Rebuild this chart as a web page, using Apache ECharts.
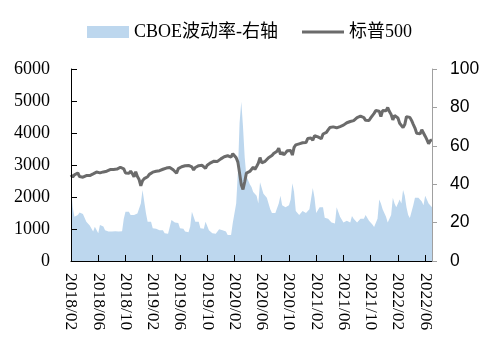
<!DOCTYPE html>
<html><head><meta charset="utf-8">
<script src="https://cdn.jsdelivr.net/npm/echarts@6/dist/echarts.min.js"></script>
<style>html,body{margin:0;padding:0;background:#fff}#c{width:500px;height:347px}</style>
</head><body><div id="c"></div>
<script>
// x-axis tick labels (every 4 months)
const tickLabels = ['2018/02','2018/06','2018/10','2019/02','2019/06','2019/10','2020/02',
  '2020/06','2020/10','2021/02','2021/06','2021/10','2022/02','2022/06'];
const firstYear = 2018, firstMonth = 2, monthCount = 53;
const slotDays = ['01','08','15','22'];
const lastCategory = '2022/06/30';

// CBOE VIX (right axis), 4 samples per month
const vix = [
  38, 28, 23, 22.7,       24, 25.3, 25, 24.5,     24, 20.5, 20.5, 18.5,   17.9, 15.3, 17.9, 17.9,
  14.5, 18.7, 18.7, 18,   16, 15.3, 15.3, 14.8,   15.3, 15, 15.5, 15,     15.3, 15, 15.5, 22,
  25.7, 25.7, 25.7, 24,   24, 24, 24.8, 24.8,     24.8, 30, 37, 36,
  25, 20.5, 20.5, 20.5,   17, 17.5, 16.8, 17,     16, 16.5, 16, 14.5,     14.5, 14.2, 15, 21.3,
  21.3, 20, 19.8, 19.8,   17, 17.5, 16.8, 15.3,   15.3, 15, 18, 25.7,     25.7, 20.5, 21, 20.5,
  17, 17.5, 16.8, 20.5,   20.5, 16, 15, 14.5,     14.5, 14.2, 15, 16.5,   16.5, 16, 15.3, 15.3,
  13.5, 13.8, 13.5, 19.8, 19.8, 30, 46, 72,       83, 70, 54, 44,         42, 40, 38.5, 36,
  36, 34, 30, 41,         38, 35, 34, 33,         32, 27, 25, 24.5,       25, 26, 30, 34,
  29, 28.5, 28, 28,       29, 32, 40.5, 36,       26, 25, 24, 25,         26, 27, 25, 25.5,
  27, 26, 38, 33,         25, 24, 28, 29,         28, 22.5, 22, 22,       21, 20, 20.5, 19.5,
  28, 27, 23, 22,         20, 20.5, 21, 20,       20, 23.4, 22, 21,       20, 21, 22, 21,
  22, 24, 23, 21,         20, 19, 17.7, 18,       22, 32, 30, 27,         25, 23, 20, 20,
  24, 33, 30, 28,         30, 32, 30, 37,         34, 28, 24, 22.4,       23, 29, 33, 34,
  33, 32, 31, 29,         34, 35, 30, 29,
  28
];

// S&P 500 (left axis), 4 samples per month
const spx = [
  2690, 2620, 2690, 2740,  2750, 2640, 2600, 2620,  2680, 2670, 2655, 2670,  2711, 2724, 2735, 2779,
  2780, 2755, 2726, 2784,  2798, 2807, 2813, 2857,  2819, 2862, 2902, 2872,  2905, 2930, 2924, 2880,
  2750, 2755, 2740, 2806,  2730, 2633, 2790, 2637,  2546, 2351, 2510, 2574,
  2610, 2633, 2707, 2708,  2776, 2793, 2804, 2743,  2822, 2800, 2867, 2895,  2905, 2908, 2924, 2879,
  2850, 2856, 2744, 2886,  2889, 2945, 2964, 2976,  3014, 2985, 2953, 2938,  2848, 2923, 2906, 2979,
  2998, 2991, 2940, 2893,  2995, 2996, 3067, 3093,  3120, 3110, 3113, 3135,  3191, 3224, 3258, 3253,
  3289, 3321, 3249, 3352,  3370, 3226, 3090, 2746,  2386, 2237, 2470, 2749,  2783, 2799, 2830, 2929,
  2863, 2955, 3055, 3232,  3066, 3117, 3115, 3169,  3226, 3276, 3294, 3360,  3381, 3431, 3526, 3331,
  3401, 3315, 3380, 3446,  3483, 3453, 3310, 3550,  3627, 3577, 3662, 3702,  3695, 3687, 3700, 3825,
  3768, 3841, 3774, 3916,  3932, 3877, 3901, 3821,  3969, 3940, 4020, 4097,  4170, 4135, 4192, 4188,
  4163, 4197, 4202, 4227,  4246, 4246, 4320, 4321,  4360, 4367, 4387, 4432,  4479, 4479, 4524, 4514,
  4480, 4395, 4357, 4391,  4471, 4545, 4613, 4701,  4682, 4682, 4513, 4701,  4709, 4696, 4796, 4670,
  4577, 4410, 4546, 4521,  4471, 4304, 4306, 4170,  4262, 4512, 4545, 4488,  4393, 4272, 4155, 3991,
  4008, 3973, 4101, 4115,  3900, 3790, 3667, 3760,
  3785
];

// category slots
const categories = [];
for (let k = 0; k < monthCount; k++) {
  const m0 = firstMonth - 1 + k;
  const y = firstYear + Math.floor(m0 / 12);
  const m = (m0 % 12) + 1;
  const ym = y + '/' + (m < 10 ? '0' + m : '' + m);
  slotDays.forEach(d => categories.push(ym + '/' + d));
}
categories.push(lastCategory);

const isTick = (idx, val) => val.slice(8) === '01' && tickLabels.indexOf(val.slice(0, 7)) >= 0;

const chart = echarts.init(document.getElementById('c'), null, {renderer: 'canvas'});
chart.setOption({
  animation: false,
  backgroundColor: '#fff',
  grid: {left: 71, right: 68, top: 69, bottom: 86, containLabel: false, outerBoundsMode: 'none'},
  legend: {
    left: 87, top: 23, padding: 0, itemWidth: 42, itemHeight: 12, itemGap: 24,
    textStyle: {fontFamily: "'Liberation Serif','Noto Sans CJK SC'", fontSize: 18, color: '#000'},
    data: [
      {name: 'CBOE波动率-右轴', icon: 'rect'},
      {name: '标普500', icon: 'path://M0,0H40V3H0Z'}
    ]
  },
  xAxis: {
    type: 'category', data: categories, boundaryGap: false, z: 10,
    axisLine: {show: true, lineStyle: {color: '#000', width: 1}},
    axisTick: {show: true, inside: true, length: 6, interval: isTick, lineStyle: {color: '#000'}},
    axisLabel: {
      interval: isTick, rotate: -90, margin: 12, hideOverlap: false,
      formatter: v => v.slice(0, 7),
      fontFamily: "'Liberation Serif'", fontSize: 17.5, color: '#000'
    },
    splitLine: {show: false}
  },
  yAxis: [
    {
      type: 'value', min: 0, max: 6000, interval: 1000, position: 'left', z: 10,
      axisLine: {show: true, lineStyle: {color: '#000', width: 1}},
      axisTick: {show: true, inside: true, length: 6, lineStyle: {color: '#000'}},
      axisLabel: {fontFamily: "'Liberation Serif'", fontSize: 18, color: '#000', margin: 21,
        formatter: v => String(v)},
      splitLine: {show: false}
    },
    {
      type: 'value', min: 0, max: 100, interval: 20, position: 'right', z: 10,
      axisLine: {show: true, lineStyle: {color: '#a0a0a0', width: 1}},
      axisTick: {show: true, inside: false, length: 5, lineStyle: {color: '#a0a0a0'}},
      axisLabel: {fontFamily: "'Liberation Sans'", fontSize: 17.5, color: '#000', margin: 18,
        formatter: v => String(v)},
      splitLine: {show: false}
    }
  ],
  series: [
    {
      name: 'CBOE波动率-右轴', type: 'line', yAxisIndex: 1, data: vix,
      symbol: 'none', showSymbol: false, color: '#BDD7EE',
      lineStyle: {width: 0, color: '#BDD7EE'},
      areaStyle: {color: '#BDD7EE', opacity: 1}, z: 1
    },
    {
      name: '标普500', type: 'line', yAxisIndex: 0, data: spx,
      symbol: 'none', showSymbol: false, color: '#6b6b6b',
      lineStyle: {width: 3, color: '#6b6b6b'}, z: 3
    }
  ]
});
</script>
</body></html>
